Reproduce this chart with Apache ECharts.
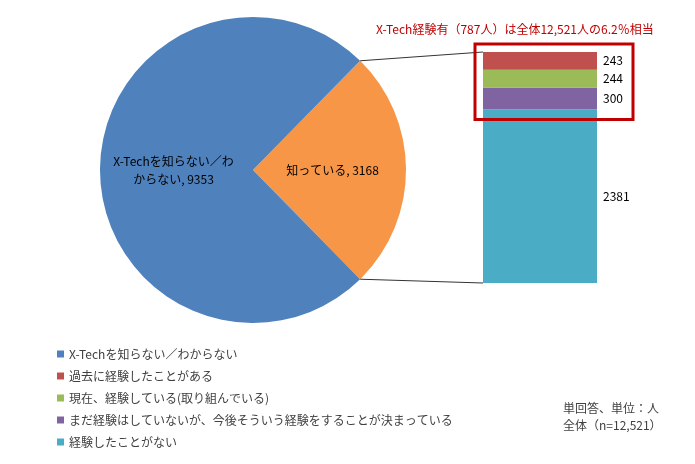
<!DOCTYPE html>
<html><head><meta charset="utf-8">
<script src="https://cdn.jsdelivr.net/npm/echarts@6/dist/echarts.min.js"></script>
<style>html,body{margin:0;padding:0;background:#fff}#c{width:695px;height:464px}</style>
</head><body><div id="c"></div>
<script>
var pieNames = ['知っている', 'X-Techを知らない／わからない'];
var pieLabels = ['知っている', 'X-Techを知らない／わ\nからない'];
var pieValues = [3168, 9353];
var barNames = ['経験したことがない', 'まだ経験はしていないが、今後そういう経験をすることが決まっている', '現在、経験している(取り組んでいる)', '過去に経験したことがある'];
var barValues = [2381, 300, 244, 243];
var legendOrder = ['X-Techを知らない／わからない', '過去に経験したことがある', '現在、経験している(取り組んでいる)', 'まだ経験はしていないが、今後そういう経験をすることが決まっている', '経験したことがない'];
var titleText = 'X-Tech経験有（787人）は全体12,521人の6.2％相当';
var noteLines = ['単回答、単位：人', '全体（n=12,521）'];

var font = '"Noto Sans CJK JP", "Noto Sans", sans-serif';
var pieColors = ['#F79646', '#4F81BD'];
var barColors = ['#4BACC6', '#8064A2', '#9BBB59', '#C0504D'];
var legendColors = ['#4F81BD', '#C0504D', '#9BBB59', '#8064A2', '#4BACC6'];
var cx = 253, cy = 170, R = 153;
var gLeft = 483, gTop = 52, gW = 114, gH = 231;
var total = pieValues[0] + pieValues[1];
var half = pieValues[0] / total * 180;

var chart = echarts.init(document.getElementById('c'));
var series = [{
  type: 'pie', center: [cx, cy], radius: R, startAngle: half, clockwise: true,
  label: { position: 'inside', color: '#000', fontSize: 12, fontFamily: font, lineHeight: 18,
    formatter: function (p) { return pieLabels[p.dataIndex] + ', ' + p.value; } },
  labelLine: { show: false }, emphasis: { disabled: true }, silent: true,
  data: pieNames.map(function (n, i) { return { name: n, value: pieValues[i], itemStyle: { color: pieColors[i] } }; })
}];
barNames.forEach(function (n, i) {
  series.push({ type: 'bar', name: n, stack: 's', barWidth: '100%', silent: true,
    itemStyle: { color: barColors[i] },
    label: { show: true, position: 'right', distance: 6, color: '#000', fontSize: 12, fontFamily: font },
    data: [barValues[i]] });
});
chart.setOption({
  animation: false,
  textStyle: { fontFamily: font },
  legend: { orient: 'vertical', left: 52, top: 343, itemWidth: 7, itemHeight: 7, itemGap: 10, icon: 'rect',
    textStyle: { fontSize: 12, color: '#404040', fontFamily: font }, selectedMode: false,
    data: legendOrder.map(function (n, i) { return { name: n, itemStyle: { color: legendColors[i] } }; }) },
  grid: { left: gLeft, top: gTop, width: gW, height: gH },
  xAxis: { type: 'category', data: ['X-Tech'], show: false },
  yAxis: { type: 'value', min: 0, max: pieValues[0], show: false, splitLine: { show: false } },
  series: series
});
var barTopY = chart.convertToPixel({ xAxisIndex: 0, yAxisIndex: 0 }, [0, pieValues[0]])[1];
var barBotY = chart.convertToPixel({ xAxisIndex: 0, yAxisIndex: 0 }, [0, 0])[1];
var expBotY = chart.convertToPixel({ xAxisIndex: 0, yAxisIndex: 0 }, [0, barValues[0]])[1];
var ang = half * Math.PI / 180;
var ux = cx + R * Math.cos(ang), uy = cy - R * Math.sin(ang), ly = cy + R * Math.sin(ang);
chart.setOption({
  graphic: [
    { type: 'line', shape: { x1: ux, y1: uy, x2: gLeft, y2: barTopY }, style: { stroke: '#333', lineWidth: 1 }, z: 10 },
    { type: 'line', shape: { x1: ux, y1: ly, x2: gLeft, y2: barBotY }, style: { stroke: '#333', lineWidth: 1 }, z: 10 },
    { type: 'rect', shape: { x: gLeft - 8, y: barTopY - 8, width: gW + 44, height: expBotY - barTopY + 18 }, style: { fill: 'none', stroke: '#C00000', lineWidth: 3 }, z: 10 },
    { type: 'text', left: 376, top: 23, style: { text: titleText, fill: '#C00000', font: '12px ' + font } },
    { type: 'text', left: 563, top: 400, style: { text: noteLines.join('\n'), fill: '#404040', font: '12px ' + font, lineHeight: 17 } }
  ]
});
</script></body></html>
